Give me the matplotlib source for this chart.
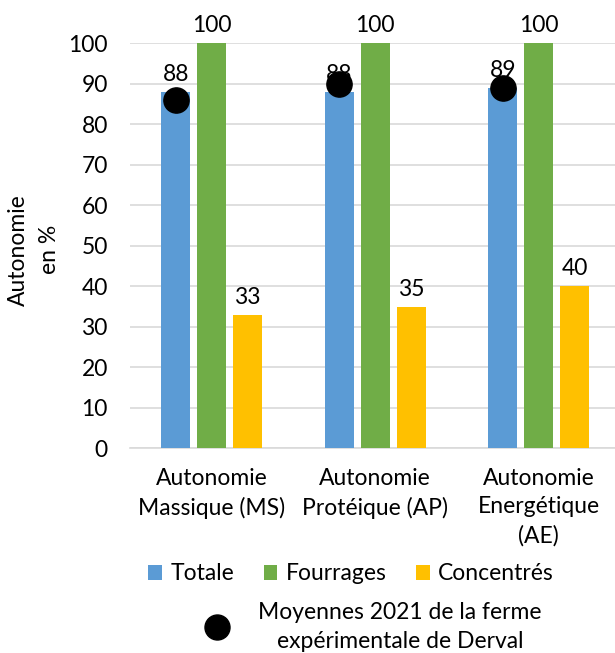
import matplotlib
matplotlib.use("Agg")
import matplotlib.pyplot as plt
from matplotlib.lines import Line2D
from matplotlib.patches import Patch
import numpy as np

plt.rcParams['font.family'] = ['Lato', 'DejaVu Sans']

categories = ["Autonomie\nMassique (MS)", "Autonomie\nProtéique (AP)", "Autonomie\nEnergétique\n(AE)"]
series_names = ["Totale", "Fourrages", "Concentrés"]
totale = [88, 88, 89]
fourrages = [100, 100, 100]
concentres = [33, 35, 40]
moyennes_derval = [86, 90, 89]
dot_label = "Moyennes 2021 de la ferme\nexpérimentale de Derval"
yticks = [0, 10, 20, 30, 40, 50, 60, 70, 80, 90, 100]

colors = ["#5B9BD5", "#70AD47", "#FFC000"]
grid_color = "#D9D9D9"
FS = 16.5

fig = plt.figure(figsize=(6.15, 6.53), dpi=100)
W, H = 615, 653
ax_left, ax_right = 130, 615
ax_bottom, ax_top = 448.3, 43.3
ax = fig.add_axes([ax_left / W, (H - ax_bottom) / H,
                   (ax_right - ax_left) / W, (ax_bottom - ax_top) / H])

x = np.arange(len(categories))
width = 0.175
step = 0.22
all_series = [totale, fourrages, concentres]
for i, (vals, col, name) in enumerate(zip(all_series, colors, series_names)):
    bars = ax.bar(x + (i - 1) * step, vals, width, color=col, label=name, zorder=3)
    for b, v in zip(bars, vals):
        ax.annotate(f"{v}", (b.get_x() + b.get_width() / 2, v),
                    xytext=(0, 5), textcoords="offset points",
                    ha="center", va="bottom", fontsize=FS, annotation_clip=False,
                    zorder=5)

ax.scatter(x - step, moyennes_derval, s=330, color="black", zorder=6, clip_on=False)

ax.set_xlim(-0.5, -0.5 + (ax_right - ax_left) / 163.5)
ax.set_ylim(0, 100)
ax.set_yticks(yticks)
ax.set_yticklabels([str(t) for t in yticks], fontsize=FS)
ax.set_xticks(x)
ax.set_xticklabels(categories, fontsize=FS, linespacing=1.45)
ax.tick_params(axis="both", length=0)
ax.tick_params(axis="y", pad=16)
ax.tick_params(axis="x", pad=14)
ax.yaxis.grid(True, color=grid_color, linewidth=1.2, zorder=0)
ax.set_axisbelow(True)
for s in ["top", "right", "left"]:
    ax.spines[s].set_visible(False)
ax.spines["bottom"].set_color(grid_color)
ax.spines["bottom"].set_linewidth(1.2)

ax.set_ylabel("Autonomie\nen %", fontsize=FS, linespacing=1.55)
ax.yaxis.set_label_coords(-0.145, 0.49)

bar_handles = [Patch(facecolor=c, label=n) for c, n in zip(colors, series_names)]
leg1 = fig.legend(handles=bar_handles, loc="center", bbox_to_anchor=(351 / W, (H - 574) / H),
                  ncol=3, frameon=False, fontsize=FS, handlelength=0.6, handleheight=0.6,
                  handletextpad=0.35, columnspacing=1.3)

dot_handle = Line2D([], [], marker="o", color="black", linestyle="none", markersize=18,
                    label=dot_label)
leg2 = fig.legend(handles=[dot_handle], loc="center", bbox_to_anchor=(368 / W, (H - 627) / H),
                  frameon=False, fontsize=FS, handletextpad=0.8)
for t in leg2.get_texts():
    t.set_multialignment("center")
    t.set_linespacing(1.45)

fig.savefig("out.png", dpi=100)
